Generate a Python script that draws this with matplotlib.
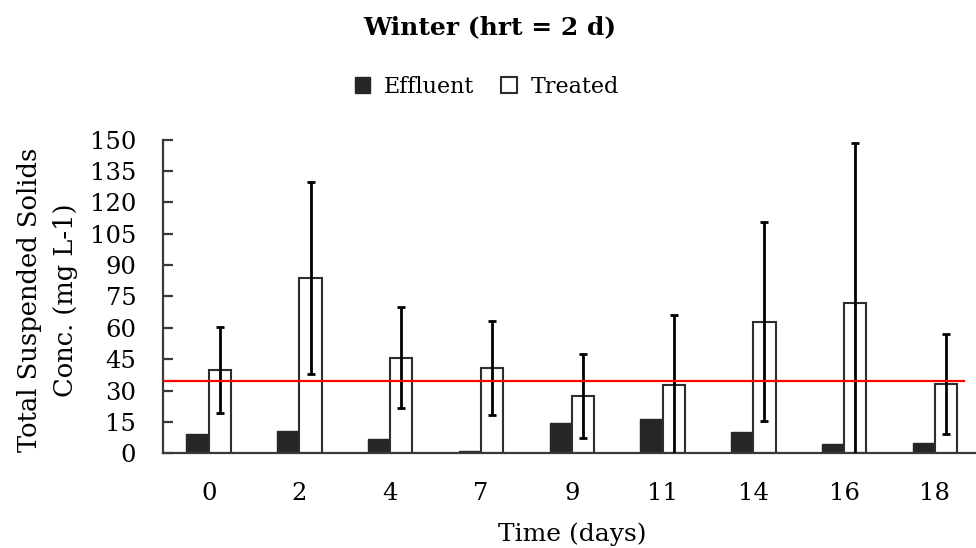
import numpy as np
import matplotlib
matplotlib.use("Agg")
import matplotlib.pyplot as plt
from matplotlib.patches import Patch

plt.rcParams['font.family'] = ['DejaVu Serif']

# values
days = ["0", "2", "4", "7", "9", "11", "14", "16", "18"]
effluent = [9.2, 10.6, 7.0, 1.1, 14.3, 16.4, 10.3, 4.3, 5.1]
treated = [39.8, 83.8, 45.7, 40.9, 27.5, 32.8, 62.9, 71.7, 33.0]
treated_err = [20.7, 45.8, 24.2, 22.4, 20.2, 33.4, 47.5, 76.6, 23.9]
limit = 34.5
y_ticks = list(range(0, 151, 15))

dark = '#262626'
spine_col = '#3a3a3a'

fig = plt.figure(figsize=(9.76, 5.48), dpi=100)
# plot area runs a little past the right edge, like the cropped original
ax = fig.add_axes([163.3 / 976, 94.7 / 548, 817 / 976, 313.7 / 548])

x = np.arange(len(days))
w = 0.245
ax.bar(x - w / 2, effluent, w, color=dark, edgecolor=dark, linewidth=1.0, zorder=2)
ax.bar(x + w / 2, treated, w, color='white', edgecolor='#2e2e2e', linewidth=1.5, zorder=2)
ax.errorbar(x + w / 2, treated, yerr=treated_err, fmt='none', ecolor='black',
            elinewidth=2.0, capsize=3, capthick=2.0, zorder=3)
ax.axhline(limit, xmin=0, xmax=0.98, color='#ff0000', linewidth=1.6, zorder=4)

ax.set_xlim(-0.5, len(days) - 0.5)
ax.set_ylim(0, 150)
ax.set_xticks(x)
ax.set_xticklabels(days)
ax.set_yticks(y_ticks)

for s in ['top', 'right']:
    ax.spines[s].set_visible(False)
for s in ['left', 'bottom']:
    ax.spines[s].set_color(spine_col)
    ax.spines[s].set_linewidth(1.6)

ax.tick_params(axis='y', direction='in', length=7, width=1.6, color=spine_col,
               pad=19.4, labelsize=17.5)
ax.tick_params(axis='x', length=0, pad=20.5, labelsize=17.5)

fig.text(490 / 976, 1 - 27 / 548, "Winter (hrt = 2 d)", ha='center', va='center',
         fontsize=18, fontweight='bold')
fig.text(572 / 976, 1 - 534 / 548, "Time (days)", ha='center', va='center', fontsize=18)
fig.text(48 / 976, 1 - 300 / 548, "Total Suspended Solids\nConc. (mg L-1)", rotation=90,
         ha='center', va='center', multialignment='center', fontsize=18.5, linespacing=1.55)

handles = [Patch(facecolor=dark, edgecolor=dark, label='Effluent'),
           Patch(facecolor='white', edgecolor='#2e2e2e', linewidth=1.5, label='Treated')]
fig.legend(handles=handles, loc='center', bbox_to_anchor=(487 / 976, 1 - 87 / 548),
           ncol=2, frameon=False, fontsize=16, handlelength=0.7, handleheight=0.7,
           handletextpad=0.64, columnspacing=1.2)

fig.savefig('out.png', dpi=100)
